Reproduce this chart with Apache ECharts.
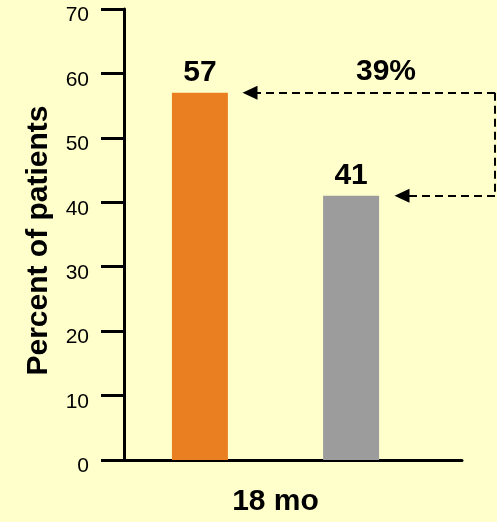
<!DOCTYPE html>
<html>
<head>
<meta charset="utf-8">
<script src="https://cdn.jsdelivr.net/npm/echarts@6/dist/echarts.min.js"></script>
<style>
  html, body { margin: 0; padding: 0; background: #FFFFCC; }
  #chart { width: 497px; height: 522px; }
</style>
</head>
<body>
<div id="chart"></div>
<script>
// Percent of patients at 18 months, two treatment arms
const timepoint = ['18 mo'];
const armA = [57];
const armB = [41];
const yTicks = { min: 0, max: 70, interval: 10 };
const relativeGain = '39%';

const FONT = 'Liberation Sans, Arial, Helvetica, sans-serif';
const chart = echarts.init(document.getElementById('chart'), null, { renderer: 'canvas' });

const dashed = { color: '#000', width: 2, type: [8, 5] };

chart.setOption({
  backgroundColor: '#FFFFCC',
  animation: false,
  grid: [
    { left: 124, right: 35, top: 9, bottom: 62 },
    { left: 124, right: 70, top: 9, bottom: 62 }
  ],
  xAxis: [
    {
      type: 'category', gridIndex: 0, data: [''],
      axisLine: { lineStyle: { color: '#000', width: 3 } },
      axisTick: { show: false }, axisLabel: { show: false }
    },
    {
      type: 'category', gridIndex: 1, data: timepoint,
      axisLine: { show: false }, axisTick: { show: false },
      axisLabel: { margin: 27, color: '#000', fontFamily: FONT, fontWeight: 'bold', fontSize: 30 }
    }
  ],
  yAxis: [
    {
      type: 'value', gridIndex: 0, min: yTicks.min, max: yTicks.max, interval: yTicks.interval,
      splitLine: { show: false },
      axisLine: { show: true, lineStyle: { color: '#000', width: 3 } },
      axisTick: { show: true, length: 23, lineStyle: { color: '#000', width: 3 } },
      axisLabel: { margin: 35, color: '#000', fontFamily: FONT, fontSize: 21,
                   verticalAlign: 'top', lineHeight: 13 },
      name: 'Percent of patients', nameLocation: 'middle', nameGap: 70,
      nameTextStyle: { color: '#000', fontFamily: FONT, fontWeight: 'bold', fontSize: 30, padding: [0, 12, 0, 0] }
    },
    {
      type: 'value', gridIndex: 1, min: yTicks.min, max: yTicks.max, interval: yTicks.interval,
      show: false
    }
  ],
  series: [
    {
      type: 'bar', xAxisIndex: 1, yAxisIndex: 1, data: armA,
      barWidth: 56, barGap: '170%',
      itemStyle: { color: '#EA7F22' },
      label: { show: true, position: 'top', distance: 5, color: '#000',
               fontFamily: FONT, fontWeight: 'bold', fontSize: 30 }
    },
    {
      type: 'bar', xAxisIndex: 1, yAxisIndex: 1, data: armB,
      barWidth: 56,
      itemStyle: { color: '#9C9C9C' },
      label: { show: true, position: 'top', distance: 5, color: '#000',
               fontFamily: FONT, fontWeight: 'bold', fontSize: 30 },
      markLine: {
        silent: true,
        animation: false,
        label: { show: false },
        symbol: ['none', 'triangle'],
        symbolSize: [14, 15],
        lineStyle: dashed,
        data: [
          [
            { coord: [0, armA[0]], x: 495, symbol: 'none' },
            { coord: [0, armA[0]], x: 250, symbol: 'triangle' }
          ],
          [
            { coord: [0, armA[0]], x: 495, symbol: 'none' },
            { coord: [0, armB[0]], x: 495, symbol: 'none' }
          ],
          [
            { coord: [0, armB[0]], x: 495, symbol: 'none' },
            { coord: [0, armB[0]], x: 402, symbol: 'triangle' }
          ]
        ]
      }
    }
  ],
  graphic: [
    {
      type: 'text', left: 356, top: 57,
      style: { text: relativeGain, fill: '#000', font: 'bold 30px ' + FONT }
    }
  ]
});
</script>
</body>
</html>
